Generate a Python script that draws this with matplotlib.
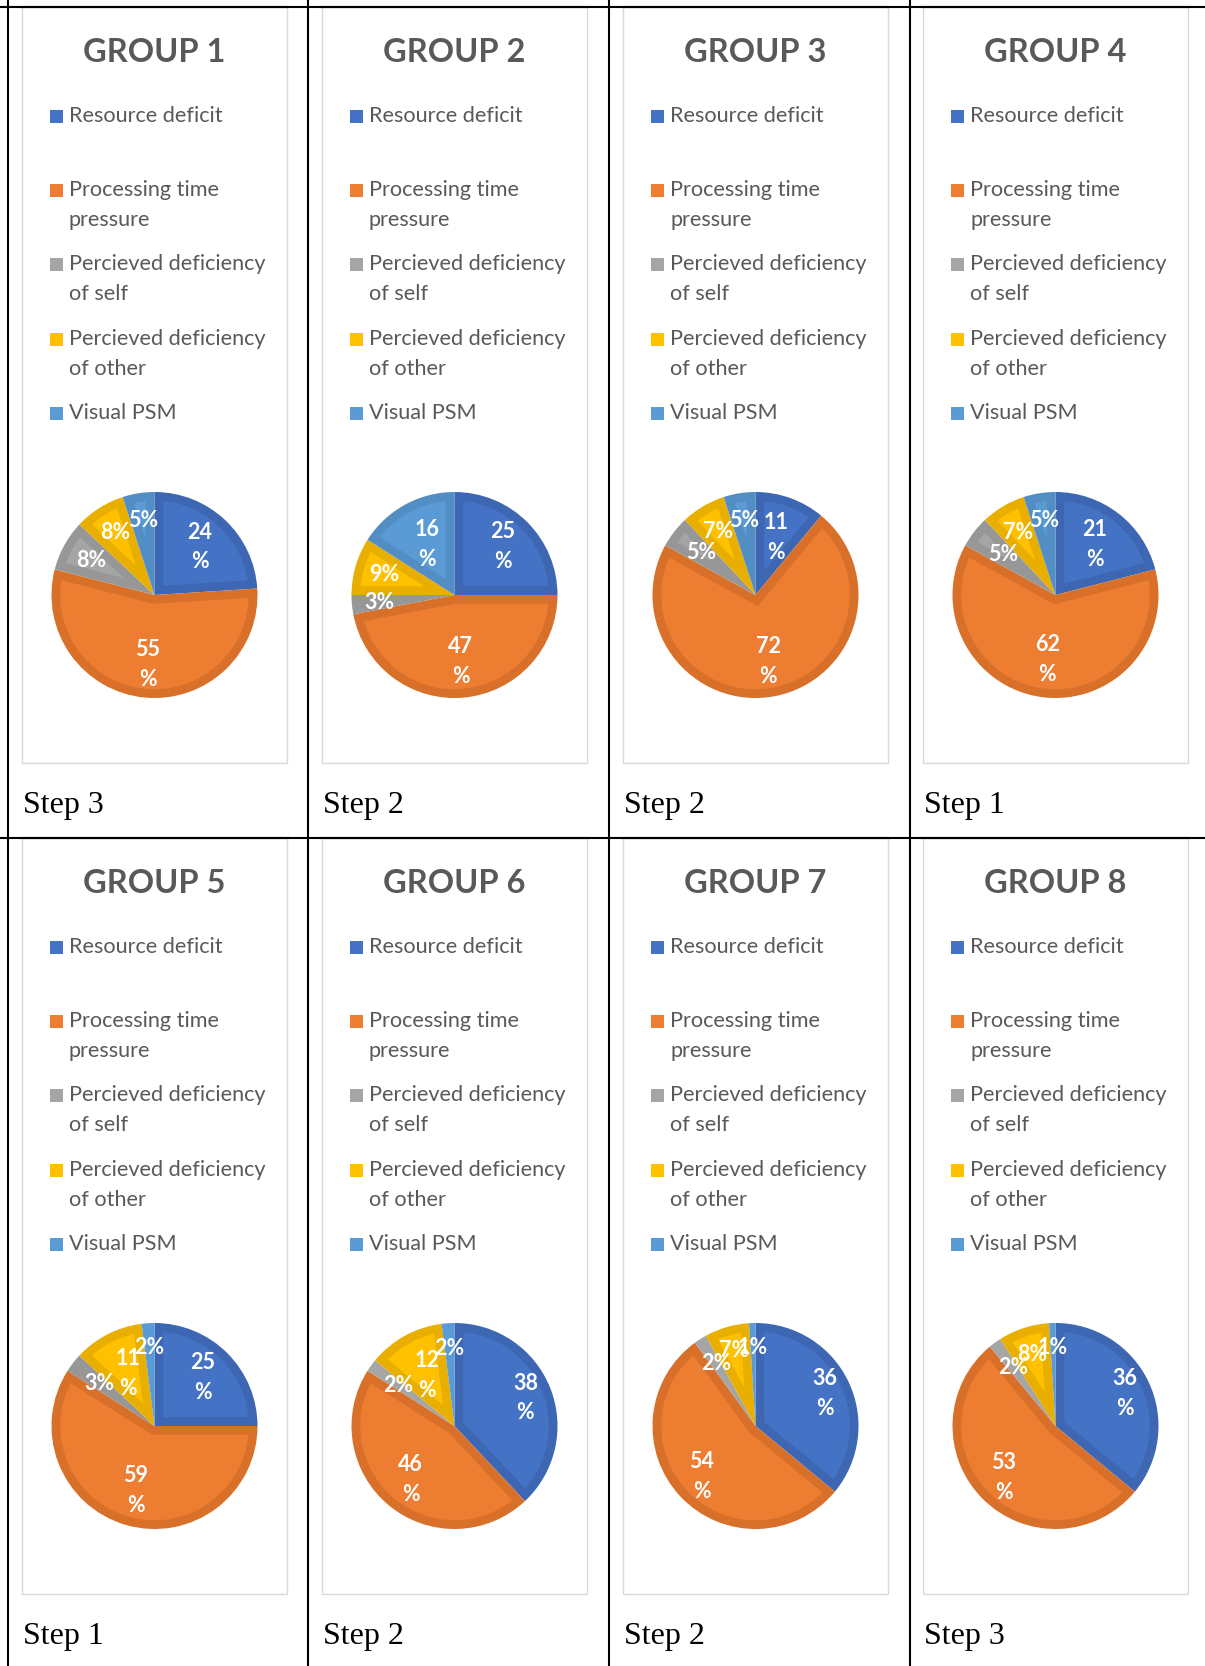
import matplotlib
matplotlib.use("Agg")
import matplotlib.pyplot as plt
from matplotlib.patches import Rectangle, Polygon
import numpy as np

W, H = 1205, 1666
DPI = 100

# ---------------- data ----------------
groups = ["GROUP 1", "GROUP 2", "GROUP 3", "GROUP 4",
          "GROUP 5", "GROUP 6", "GROUP 7", "GROUP 8"]
steps = ["Step 3", "Step 2", "Step 2", "Step 1",
         "Step 1", "Step 2", "Step 2", "Step 3"]
categories = ["Resource deficit",
              "Processing time\npressure",
              "Percieved deficiency\nof self",
              "Percieved deficiency\nof other",
              "Visual PSM"]
resource_deficit = [24, 25, 11, 21, 25, 38, 36, 36]
processing_time = [55, 47, 72, 62, 59, 46, 54, 53]
deficiency_self = [8, 3, 5, 5, 3, 2, 2, 2]
deficiency_other = [8, 9, 7, 7, 11, 12, 7, 8]
visual_psm = [5, 16, 5, 5, 2, 2, 1, 1]

# ---------------- style ----------------
colors = ["#4472C4", "#ED7D31", "#A5A5A5", "#FFC000", "#5B9BD5"]
band_colors = ["#3E67B3", "#D87029", "#979797", "#E9AF00", "#528DC3"]
# radial position of each data label (fraction of radius)
label_r = [
    [0.64, 0.68, 0.70, 0.72, 0.73],
    [0.66, 0.65, 0.73, 0.71, 0.56],
    [0.59, 0.66, 0.67, 0.72, 0.73],
    [0.62, 0.63, 0.64, 0.71, 0.73],
    [0.66, 0.65, 0.68, 0.57, 0.76],
    [0.74, 0.67, 0.67, 0.56, 0.75],
    [0.74, 0.72, 0.72, 0.76, 0.76],
    [0.74, 0.71, 0.70, 0.73, 0.76],
]
SANS = ["Lato", "DejaVu Sans"]
SERIF = ["Liberation Serif", "DejaVu Serif"]
TXT = "#595959"

col_lines = [7.5, 307.5, 609, 910]
box_left = [22, 322, 623, 923]
row_top = [7, 838]
BOX_W, BOX_H = 265, 756
R = 103       # pie radius in px
BAND = 0.085  # bevel band width (fraction of radius)

fig = plt.figure(figsize=(W / DPI, H / DPI), dpi=DPI)
bg = fig.add_axes([0, 0, 1, 1])
bg.set_xlim(0, W)
bg.set_ylim(H, 0)
bg.axis("off")

# table grid
for x in col_lines:
    bg.plot([x, x], [0, H], color="black", lw=1.5, solid_capstyle="butt")
for y in row_top:
    bg.plot([0, W], [y, y], color="black", lw=1.5, solid_capstyle="butt")

values = np.array([resource_deficit, processing_time, deficiency_self,
                   deficiency_other, visual_psm]).T


def inner_bevel(w, d):
    """Inset polygon of a pie wedge (for the bevelled look)."""
    t1, t2 = np.deg2rad(w.theta1), np.deg2rad(w.theta2)
    half = (t2 - t1) / 2
    delta = np.arcsin(d / (w.r - d))
    if half <= delta:
        return None
    mid = (t1 + t2) / 2
    cx, cy = w.center
    a = d / np.sin(half)
    apex = (cx + a * np.cos(mid), cy + a * np.sin(mid))
    ts = np.linspace(t1 + delta, t2 - delta, 120)
    pts = [apex] + [(cx + (w.r - d) * np.cos(t), cy + (w.r - d) * np.sin(t))
                    for t in ts]
    return pts


for i in range(8):
    row, col = divmod(i, 4)
    x0 = box_left[col]
    y0 = row_top[row]
    # chart box
    bg.add_patch(Rectangle((x0, y0), BOX_W, BOX_H, facecolor="white",
                           edgecolor="#D9D9D9", lw=1.0, zorder=1))
    bg.plot([x0 - 1, x0 + BOX_W + 1], [y0, y0], color="black", lw=1.5, zorder=2)
    # title
    bg.text(x0 + BOX_W / 2, y0 + 45, groups[i], ha="center", va="center",
            fontsize=23.5, fontweight="bold", color=TXT, family=SANS, zorder=3)
    # legend
    for k, cat in enumerate(categories):
        base = y0 + 115 + 74.2 * k
        bg.add_patch(Rectangle((x0 + 28, base - 12), 13, 13,
                               facecolor=colors[k], edgecolor="none", zorder=3))
        for j, line in enumerate(cat.split("\n")):
            bg.text(x0 + 47, base + 30 * j, line, ha="left", va="baseline",
                    fontsize=15.6, color=TXT, family=SANS, zorder=3)
    # step label
    bg.text(x0 + 1, y0 + 806, steps[i], ha="left", va="baseline",
            fontsize=23, color="black", family=SERIF, zorder=3)

    # pie
    cx = x0 + BOX_W / 2
    cy = y0 + 588
    span = 1.3 * R
    ax = fig.add_axes([(cx - span) / W, 1 - (cy + span) / H,
                       2 * span / W, 2 * span / H])
    wedges, _ = ax.pie(values[i], colors=band_colors, startangle=90,
                       counterclock=False, radius=1.0,
                       wedgeprops=dict(linewidth=0))
    for k, w in enumerate(wedges):
        pts = inner_bevel(w, BAND)
        if pts is None:
            w.set_facecolor(colors[k])
        else:
            ax.add_patch(Polygon(pts, closed=True, facecolor=colors[k],
                                 edgecolor="none", zorder=w.get_zorder() + 0.1))
        mid = np.deg2rad((w.theta1 + w.theta2) / 2)
        rr = label_r[i][k]
        lx, ly = rr * np.cos(mid), rr * np.sin(mid)
        v = values[i][k]
        kw = dict(ha="center", va="center", fontsize=15.5, fontweight="bold",
                  color="white", family=SANS, zorder=5)
        if v >= 10:
            ax.text(lx, ly + 0.145, f"{v}", **kw)
            ax.text(lx, ly - 0.145, "%", **kw)
        else:
            ax.text(lx, ly, f"{v}%", **kw)
    ax.set_xlim(-1.3, 1.3)
    ax.set_ylim(-1.3, 1.3)
    ax.set_aspect("equal")
    ax.axis("off")

fig.savefig("out.png", dpi=DPI)
